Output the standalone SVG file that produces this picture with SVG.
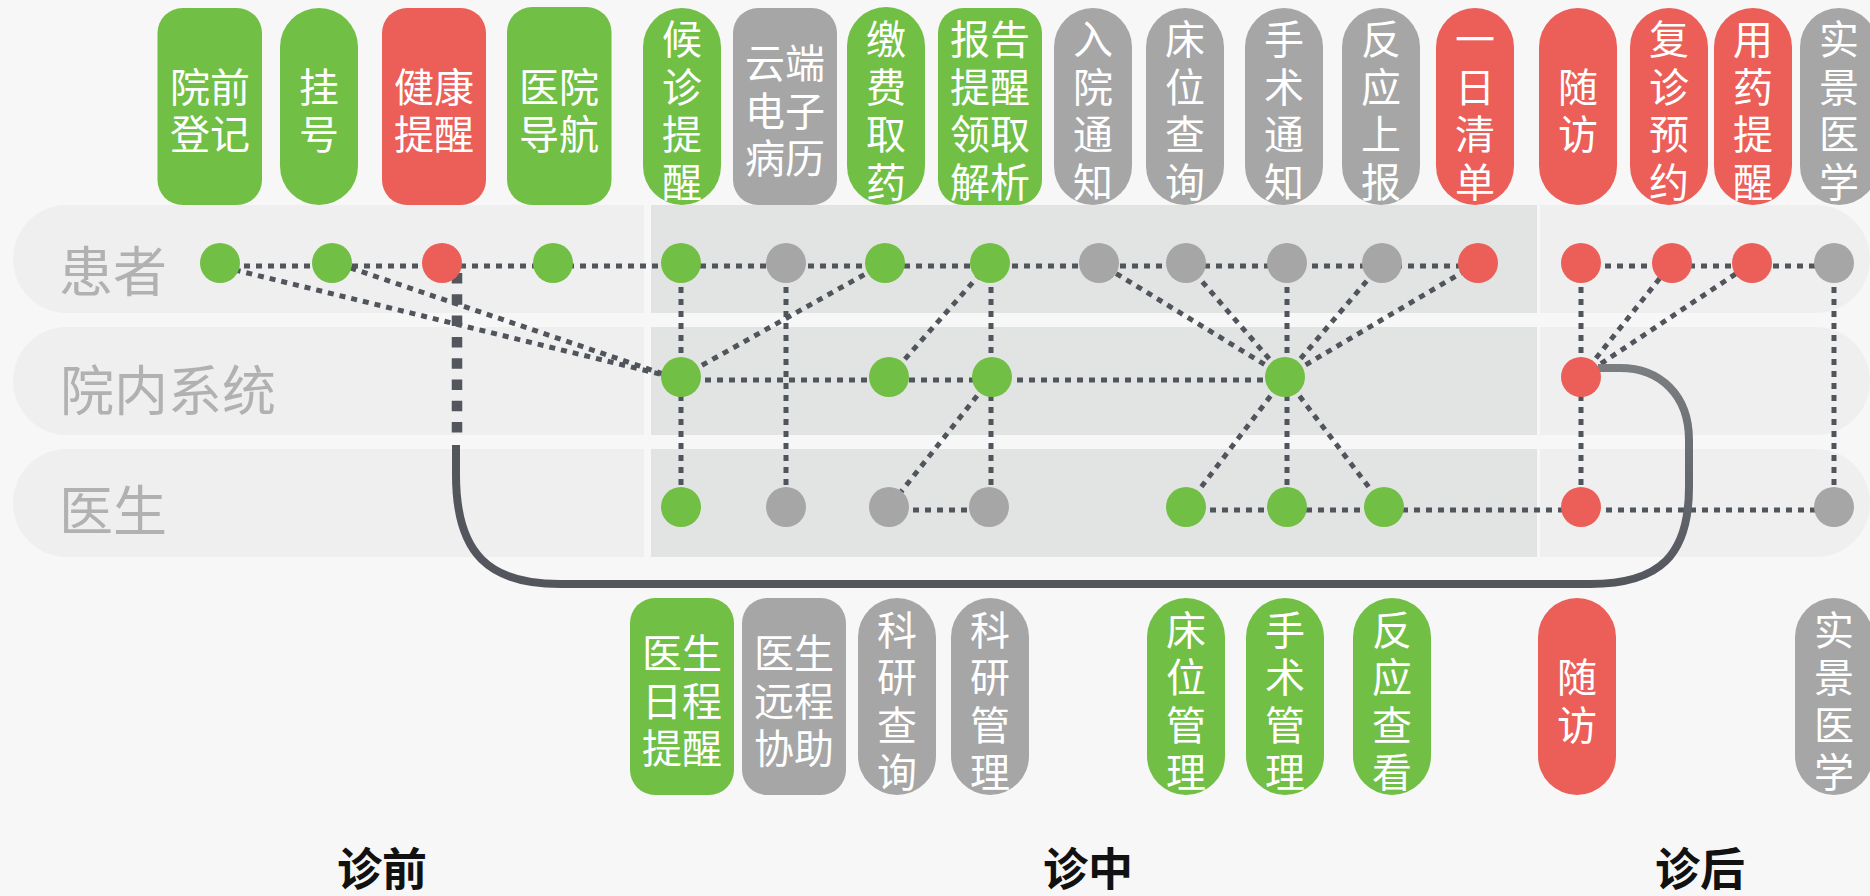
<svg xmlns="http://www.w3.org/2000/svg" width="1870" height="896" viewBox="0 0 1870 896">
<defs>
<style>
.bg{fill:#f7f7f7}
.lane{fill:#efefef}
.shade{fill:#e2e4e3}
.g{fill:#71bf44}
.r{fill:#ec5e58}
.k{fill:#a6a6a6}
.bt{fill:#ffffff;font-family:"Noto Sans CJK SC","Noto Sans CJK TC",sans-serif;font-size:40px;text-anchor:middle;dominant-baseline:central}
.lab{fill:#b0b1b0;font-family:"Noto Sans CJK SC",sans-serif;font-size:54px;dominant-baseline:central}
.stage{fill:#111111;font-family:"Noto Sans CJK SC",sans-serif;font-size:45px;font-weight:bold;text-anchor:middle;dominant-baseline:central}
.dot{fill:none;stroke:#50545b;stroke-width:5;stroke-dasharray:6 6}
.thick{fill:none;stroke:#53565d;stroke-width:10.5;stroke-dasharray:10.5 10.8}
.solid{fill:none;stroke:#53565d;stroke-width:8}
</style>
<linearGradient id="curveGrad" gradientUnits="userSpaceOnUse" x1="0" y1="368" x2="0" y2="584">
<stop offset="0" stop-color="#7a7e81"/>
<stop offset="1" stop-color="#53565d"/>
</linearGradient>
</defs>
<rect class="bg" x="0" y="0" width="1870" height="896"/>
<g id="lanes">
<path class="lane" d="M644,205 H67 A54,54 0 0 0 67,313 H644 Z"/>
<path class="lane" d="M644,327 H67 A54,54 0 0 0 67,435 H644 Z"/>
<path class="lane" d="M644,449 H67 A54,54 0 0 0 67,557 H644 Z"/>
<rect class="shade" x="651" y="205" width="886" height="108"/>
<rect class="shade" x="651" y="327" width="886" height="108"/>
<rect class="shade" x="651" y="449" width="886" height="108"/>
<path class="lane" d="M1540,205 H1816 A54,54 0 0 1 1816,313 H1540 Z"/>
<path class="lane" d="M1540,327 H1816 A54,54 0 0 1 1816,435 H1540 Z"/>
<path class="lane" d="M1540,449 H1816 A54,54 0 0 1 1816,557 H1540 Z"/>
<text class="lab" x="59" y="268">患者</text>
<text class="lab" x="60" y="387">院内系统</text>
<text class="lab" x="59" y="507">医生</text>
</g>
<g id="connectors">
<path class="dot" d="M220,266 H1478"/>
<path class="dot" d="M1581,266 H1834"/>
<path class="dot" d="M681,380 H1285"/>
<path class="dot" d="M889,510 H989"/>
<path class="dot" d="M1186,510 H1834"/>
<path class="dot" d="M223,267 L672,377"/>
<path class="dot" d="M339,264 L672,377"/>
<path class="dot" d="M681,263 V507"/>
<path class="dot" d="M786,263 V507"/>
<path class="dot" d="M681,377 L885,263"/>
<path class="dot" d="M889,377 L990,263"/>
<path class="dot" d="M991,263 V507"/>
<path class="dot" d="M992,377 L889,507"/>
<path class="dot" d="M1285,377 L1099,263"/>
<path class="dot" d="M1285,377 L1186,263"/>
<path class="dot" d="M1287,263 V507"/>
<path class="dot" d="M1285,377 L1382,263"/>
<path class="dot" d="M1285,377 L1478,263"/>
<path class="dot" d="M1285,377 L1186,507"/>
<path class="dot" d="M1285,377 L1384,507"/>
<path class="dot" d="M1581,263 V507"/>
<path class="dot" d="M1581,377 L1672,263"/>
<path class="dot" d="M1581,377 L1752,263"/>
<path class="dot" d="M1834,263 V507"/>
<path class="thick" d="M457,273 V433"/>
<path class="solid" d="M456,445 V475 C456,555 490,584 560,584 H1590"/>
<path fill="none" stroke="url(#curveGrad)" stroke-width="8" d="M1590,584 C1660,584 1689,555 1689,487 V440 C1689,395 1660,368 1620,368 H1598"/>
</g>
<g id="patient-nodes">
<circle id="p1" class="g" cx="220" cy="263" r="20"/>
<circle id="p2" class="g" cx="332" cy="263" r="20"/>
<circle id="p3" class="r" cx="442" cy="263" r="20"/>
<circle id="p4" class="g" cx="553" cy="263" r="20"/>
<circle id="p5" class="g" cx="681" cy="263" r="20"/>
<circle id="p6" class="k" cx="786" cy="263" r="20"/>
<circle id="p7" class="g" cx="885" cy="263" r="20"/>
<circle id="p8" class="g" cx="990" cy="263" r="20"/>
<circle id="p9" class="k" cx="1099" cy="263" r="20"/>
<circle id="p10" class="k" cx="1186" cy="263" r="20"/>
<circle id="p11" class="k" cx="1287" cy="263" r="20"/>
<circle id="p12" class="k" cx="1382" cy="263" r="20"/>
<circle id="p13" class="r" cx="1478" cy="263" r="20"/>
<circle id="p14" class="r" cx="1581" cy="263" r="20"/>
<circle id="p15" class="r" cx="1672" cy="263" r="20"/>
<circle id="p16" class="r" cx="1752" cy="263" r="20"/>
<circle id="p17" class="k" cx="1834" cy="263" r="20"/>
</g>
<g id="system-nodes">
<circle id="s1" class="g" cx="681" cy="377" r="20"/>
<circle id="s2" class="g" cx="889" cy="377" r="20"/>
<circle id="s3" class="g" cx="992" cy="377" r="20"/>
<circle id="s4" class="g" cx="1285" cy="377" r="20"/>
<circle id="s5" class="r" cx="1581" cy="377" r="20"/>
</g>
<g id="doctor-nodes">
<circle id="d1" class="g" cx="681" cy="507" r="20"/>
<circle id="d2" class="k" cx="786" cy="507" r="20"/>
<circle id="d3" class="k" cx="889" cy="507" r="20"/>
<circle id="d4" class="k" cx="989" cy="507" r="20"/>
<circle id="d5" class="g" cx="1186" cy="507" r="20"/>
<circle id="d6" class="g" cx="1287" cy="507" r="20"/>
<circle id="d7" class="g" cx="1384" cy="507" r="20"/>
<circle id="d8" class="r" cx="1581" cy="507" r="20"/>
<circle id="d9" class="k" cx="1834" cy="507" r="20"/>
</g>
<g id="top-yqdj"><rect class="g" x="157.5" y="8" width="104.5" height="197" rx="25"/><text class="bt"><tspan x="210" y="84.7">院前</tspan><tspan x="210" y="132.3">登记</tspan></text></g>
<g id="top-gh"><rect class="g" x="280" y="8" width="78" height="197" rx="39"/><text class="bt"><tspan x="319" y="84.7">挂</tspan><tspan x="319" y="132.3">号</tspan></text></g>
<g id="top-jktx"><rect class="r" x="382" y="8" width="104" height="197" rx="25"/><text class="bt"><tspan x="434" y="84.7">健康</tspan><tspan x="434" y="132.3">提醒</tspan></text></g>
<g id="top-yydh"><rect class="g" x="507" y="7" width="104.5" height="198" rx="25"/><text class="bt"><tspan x="559" y="84.7">医院</tspan><tspan x="559" y="132.3">导航</tspan></text></g>
<g id="top-hztx"><rect class="g" x="643" y="8" width="78" height="197" rx="39"/><text class="bt"><tspan x="682" y="37.1">候</tspan><tspan x="682" y="84.7">诊</tspan><tspan x="682" y="132.3">提</tspan><tspan x="682" y="179.9">醒</tspan></text></g>
<g id="top-yddz"><rect class="k" x="733" y="8" width="104" height="197" rx="25"/><text class="bt"><tspan x="785" y="60.9">云端</tspan><tspan x="785" y="108.5">电子</tspan><tspan x="785" y="156.1">病历</tspan></text></g>
<g id="top-jfqy"><rect class="g" x="847" y="7" width="78" height="198" rx="39"/><text class="bt"><tspan x="886" y="37.1">缴</tspan><tspan x="886" y="84.7">费</tspan><tspan x="886" y="132.3">取</tspan><tspan x="886" y="179.9">药</tspan></text></g>
<g id="top-bgtx"><rect class="g" x="938" y="8" width="104" height="197" rx="25"/><text class="bt"><tspan x="990" y="37.1">报告</tspan><tspan x="990" y="84.7">提醒</tspan><tspan x="990" y="132.3">领取</tspan><tspan x="990" y="179.9">解析</tspan></text></g>
<g id="top-rytz"><rect class="k" x="1054" y="8" width="78" height="197" rx="39"/><text class="bt"><tspan x="1093" y="37.1">入</tspan><tspan x="1093" y="84.7">院</tspan><tspan x="1093" y="132.3">通</tspan><tspan x="1093" y="179.9">知</tspan></text></g>
<g id="top-cwcx"><rect class="k" x="1146" y="8" width="78" height="197" rx="39"/><text class="bt"><tspan x="1185" y="37.1">床</tspan><tspan x="1185" y="84.7">位</tspan><tspan x="1185" y="132.3">查</tspan><tspan x="1185" y="179.9">询</tspan></text></g>
<g id="top-sstz"><rect class="k" x="1245" y="8" width="78" height="197" rx="39"/><text class="bt"><tspan x="1284" y="37.1">手</tspan><tspan x="1284" y="84.7">术</tspan><tspan x="1284" y="132.3">通</tspan><tspan x="1284" y="179.9">知</tspan></text></g>
<g id="top-fysb"><rect class="k" x="1342" y="8" width="78" height="197" rx="39"/><text class="bt"><tspan x="1381" y="37.1">反</tspan><tspan x="1381" y="84.7">应</tspan><tspan x="1381" y="132.3">上</tspan><tspan x="1381" y="179.9">报</tspan></text></g>
<g id="top-yrqd"><rect class="r" x="1436" y="8" width="78" height="197" rx="39"/><text class="bt"><tspan x="1475" y="37.1">一</tspan><tspan x="1475" y="84.7">日</tspan><tspan x="1475" y="132.3">清</tspan><tspan x="1475" y="179.9">单</tspan></text></g>
<g id="top-sf"><rect class="r" x="1539" y="8" width="78" height="197" rx="39"/><text class="bt"><tspan x="1578" y="84.7">随</tspan><tspan x="1578" y="132.3">访</tspan></text></g>
<g id="top-fzyy"><rect class="r" x="1630" y="8" width="78" height="197" rx="39"/><text class="bt"><tspan x="1669" y="37.1">复</tspan><tspan x="1669" y="84.7">诊</tspan><tspan x="1669" y="132.3">预</tspan><tspan x="1669" y="179.9">约</tspan></text></g>
<g id="top-yytx"><rect class="r" x="1714" y="8" width="78" height="197" rx="39"/><text class="bt"><tspan x="1753" y="37.1">用</tspan><tspan x="1753" y="84.7">药</tspan><tspan x="1753" y="132.3">提</tspan><tspan x="1753" y="179.9">醒</tspan></text></g>
<g id="top-sjyx"><rect class="k" x="1800" y="8" width="78" height="197" rx="39"/><text class="bt"><tspan x="1839" y="37.1">实</tspan><tspan x="1839" y="84.7">景</tspan><tspan x="1839" y="132.3">医</tspan><tspan x="1839" y="179.9">学</tspan></text></g>
<g id="bot-yrctx"><rect class="g" x="630" y="598" width="104" height="197" rx="25"/><text class="bt"><tspan x="682" y="651">医生</tspan><tspan x="682" y="698.5">日程</tspan><tspan x="682" y="746">提醒</tspan></text></g>
<g id="bot-ycxz"><rect class="k" x="742" y="598" width="104" height="197" rx="25"/><text class="bt"><tspan x="794" y="651">医生</tspan><tspan x="794" y="698.5">远程</tspan><tspan x="794" y="746">协助</tspan></text></g>
<g id="bot-kycx"><rect class="k" x="858" y="598" width="78" height="197" rx="39"/><text class="bt"><tspan x="897" y="627.5">科</tspan><tspan x="897" y="675">研</tspan><tspan x="897" y="722.5">查</tspan><tspan x="897" y="770">询</tspan></text></g>
<g id="bot-kygl"><rect class="k" x="951" y="598" width="78" height="197" rx="39"/><text class="bt"><tspan x="990" y="627.5">科</tspan><tspan x="990" y="675">研</tspan><tspan x="990" y="722.5">管</tspan><tspan x="990" y="770">理</tspan></text></g>
<g id="bot-cwgl"><rect class="g" x="1147" y="598" width="78" height="197" rx="39"/><text class="bt"><tspan x="1186" y="627.5">床</tspan><tspan x="1186" y="675">位</tspan><tspan x="1186" y="722.5">管</tspan><tspan x="1186" y="770">理</tspan></text></g>
<g id="bot-ssgl"><rect class="g" x="1246" y="598" width="78" height="197" rx="39"/><text class="bt"><tspan x="1285" y="627.5">手</tspan><tspan x="1285" y="675">术</tspan><tspan x="1285" y="722.5">管</tspan><tspan x="1285" y="770">理</tspan></text></g>
<g id="bot-fyck"><rect class="g" x="1353" y="598" width="78" height="197" rx="39"/><text class="bt"><tspan x="1392" y="627.5">反</tspan><tspan x="1392" y="675">应</tspan><tspan x="1392" y="722.5">查</tspan><tspan x="1392" y="770">看</tspan></text></g>
<g id="bot-sf"><rect class="r" x="1538" y="598" width="78" height="197" rx="39"/><text class="bt"><tspan x="1577" y="675">随</tspan><tspan x="1577" y="722.5">访</tspan></text></g>
<g id="bot-sjyx"><rect class="k" x="1795" y="598" width="78" height="197" rx="39"/><text class="bt"><tspan x="1834" y="627.5">实</tspan><tspan x="1834" y="675">景</tspan><tspan x="1834" y="722.5">医</tspan><tspan x="1834" y="770">学</tspan></text></g>
<g id="stages">
<text class="stage" x="382" y="866">诊前</text>
<text class="stage" x="1088" y="866">诊中</text>
<text class="stage" x="1700" y="866">诊后</text>
</g>
</svg>
